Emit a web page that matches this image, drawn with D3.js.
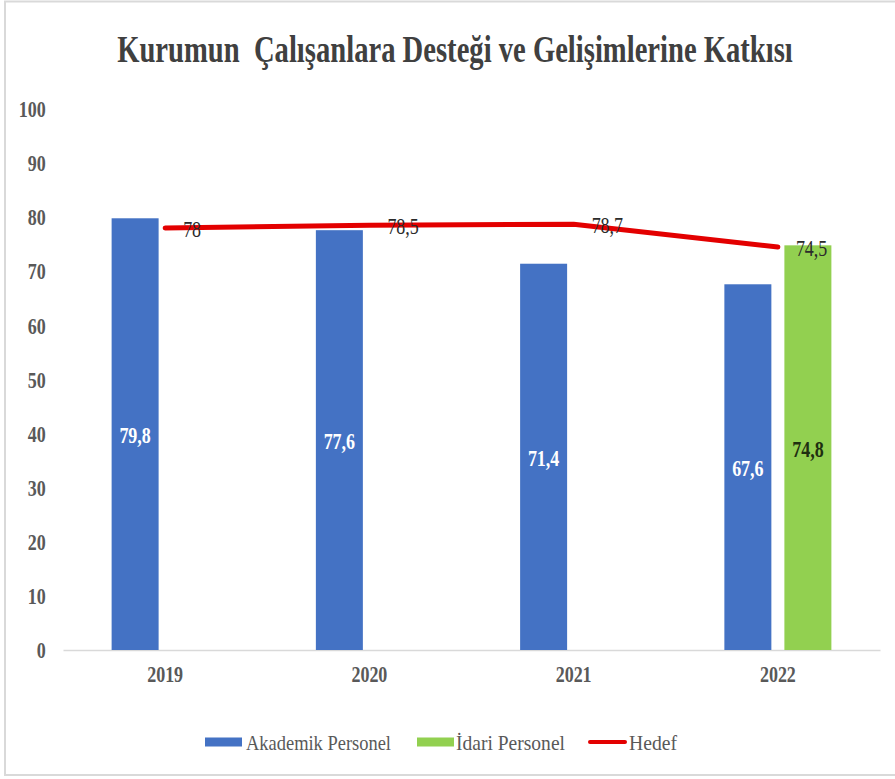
<!DOCTYPE html>
<html>
<head>
<meta charset="utf-8">
<script src="https://cdn.jsdelivr.net/npm/d3@7"></script>
<style>
  html, body { margin: 0; padding: 0; background: #fff; }
  svg text { font-family: "Liberation Serif", "Times New Roman", serif; }
</style>
</head>
<body>
<svg id="chart" width="895" height="779"></svg>
<script>
// Data
const years = ['2019', '2020', '2021', '2022'];
const akademik = [79.8, 77.6, 71.4, 67.6];
const idari = [null, null, null, 74.8];
const hedef = [78, 78.5, 78.7, 74.5];
const yTicks = [0, 10, 20, 30, 40, 50, 60, 70, 80, 90, 100];
const seriesNames = ['Akademik Personel', 'İdari Personel', 'Hedef'];
const titleText = 'Kurumun\u00a0 Çalışanlara Desteği ve Gelişimlerine Katkısı';

const colors = { akademik: '#4472C4', idari: '#92D050', hedef: '#E30000' };
const serif = '"Liberation Serif", "Times New Roman", serif';
const squeeze = 0.75; // the fonts in the picture are horizontally compressed
const fmt = v => String(v).replace('.', ',');

const svg = d3.select('#chart').attr('font-family', serif);

// chart border
svg.append('rect')
  .attr('x', 5).attr('y', 1.5)
  .attr('width', 900).attr('height', 773.5)
  .attr('fill', '#fff')
  .attr('stroke', '#d9d9d9')
  .attr('stroke-width', 2);

// Title - squeezed to the width it has in the picture
const title = svg.append('text')
  .attr('text-anchor', 'middle')
  .attr('font-family', serif)
  .attr('font-size', 38)
  .attr('font-weight', 'bold')
  .attr('fill', '#404040')
  .text(titleText);
const titleLen = title.node().getComputedTextLength();
title.attr('transform', `translate(455,62) scale(${676 / titleLen},1)`);

// Scales
const x = d3.scaleBand().domain(years).range([63, 880]);
const x1 = d3.scaleBand().domain(['akademik', 'idari'])
  .range([0, x.bandwidth()])
  .paddingInner(0.217)
  .paddingOuter(0.81);
const y = d3.scaleLinear().domain([0, 100]).range([650, 109]);

// Y axis (labels only)
const yAxis = svg.append('g')
  .attr('transform', 'translate(63,0)')
  .call(d3.axisLeft(y).tickValues(yTicks).tickSize(0).tickPadding(23));
yAxis.attr('font-family', serif);
yAxis.select('.domain').remove();
yAxis.selectAll('text')
  .attr('font-family', serif)
  .attr('font-size', 24)
  .attr('font-weight', 'bold')
  .attr('fill', '#595959')
  .attr('transform', `scale(${squeeze},1)`);

// X axis
const xAxis = svg.append('g')
  .attr('transform', 'translate(0,650)')
  .call(d3.axisBottom(x).tickSize(0).tickPadding(15));
xAxis.attr('font-family', serif);
xAxis.select('.domain').attr('stroke', '#d9d9d9').attr('stroke-width', 1.5);
xAxis.selectAll('text')
  .attr('font-family', serif)
  .attr('font-size', 24)
  .attr('font-weight', 'bold')
  .attr('fill', '#595959')
  .attr('transform', `scale(${squeeze},1)`);

// Bars
const barData = [];
years.forEach((yr, i) => {
  if (akademik[i] != null) barData.push({ year: yr, key: 'akademik', value: akademik[i] });
  if (idari[i] != null) barData.push({ year: yr, key: 'idari', value: idari[i] });
});

svg.append('g').selectAll('rect')
  .data(barData)
  .enter().append('rect')
  .attr('x', d => x(d.year) + x1(d.key))
  .attr('y', d => y(d.value))
  .attr('width', x1.bandwidth())
  .attr('height', d => y(0) - y(d.value))
  .attr('fill', d => colors[d.key]);

// Bar labels (centered)
svg.append('g').selectAll('text')
  .data(barData)
  .enter().append('text')
  .attr('transform', d => `translate(${x(d.year) + x1(d.key) + x1.bandwidth() / 2},${y(d.value / 2)}) scale(${squeeze},1)`)
  .attr('dy', '0.38em')
  .attr('text-anchor', 'middle')
  .attr('font-family', serif)
  .attr('font-size', 24)
  .attr('font-weight', 'bold')
  .attr('fill', d => d.key === 'akademik' ? '#ffffff' : '#1f2f10')
  .text(d => fmt(d.value));

// Hedef line
const cx = i => x(years[i]) + x.bandwidth() / 2;
const line = d3.line()
  .x((d, i) => cx(i))
  .y(d => y(d));

svg.append('path')
  .datum(hedef)
  .attr('fill', 'none')
  .attr('stroke', colors.hedef)
  .attr('stroke-width', 5)
  .attr('stroke-linecap', 'round')
  .attr('stroke-linejoin', 'round')
  .attr('d', line);

svg.append('g').selectAll('text')
  .data(hedef)
  .enter().append('text')
  .attr('transform', (d, i) => `translate(${cx(i) + 18},${y(d)}) scale(${squeeze},1)`)
  .attr('dy', '0.36em')
  .attr('font-family', serif)
  .attr('font-size', 24)
  .attr('fill', '#2b2b2b')
  .text(d => fmt(d));

// Legend
const legendY = 742;
const legendItems = [
  { name: seriesNames[0], color: colors.akademik, type: 'rect', sx: 205, tx: 246, tw: 145 },
  { name: seriesNames[1], color: colors.idari, type: 'rect', sx: 417, tx: 456, tw: 109 },
  { name: seriesNames[2], color: colors.hedef, type: 'line', sx: 588, tx: 629, tw: 48 }
];
const legend = svg.append('g');
legendItems.forEach(it => {
  if (it.type === 'rect') {
    legend.append('rect')
      .attr('x', it.sx).attr('y', legendY - 4.5)
      .attr('width', 37).attr('height', 9)
      .attr('fill', it.color);
  } else {
    legend.append('line')
      .attr('x1', it.sx + 2).attr('x2', it.sx + 37)
      .attr('y1', legendY).attr('y2', legendY)
      .attr('stroke', it.color)
      .attr('stroke-width', 4)
      .attr('stroke-linecap', 'round');
  }
  const t = legend.append('text')
    .attr('dy', '0.35em')
    .attr('font-family', serif)
    .attr('font-size', 22)
    .attr('fill', '#595959')
    .text(it.name);
  const len = t.node().getComputedTextLength();
  t.attr('transform', `translate(${it.tx},${legendY}) scale(${it.tw / len},1)`);
});
</script>
</body>
</html>
